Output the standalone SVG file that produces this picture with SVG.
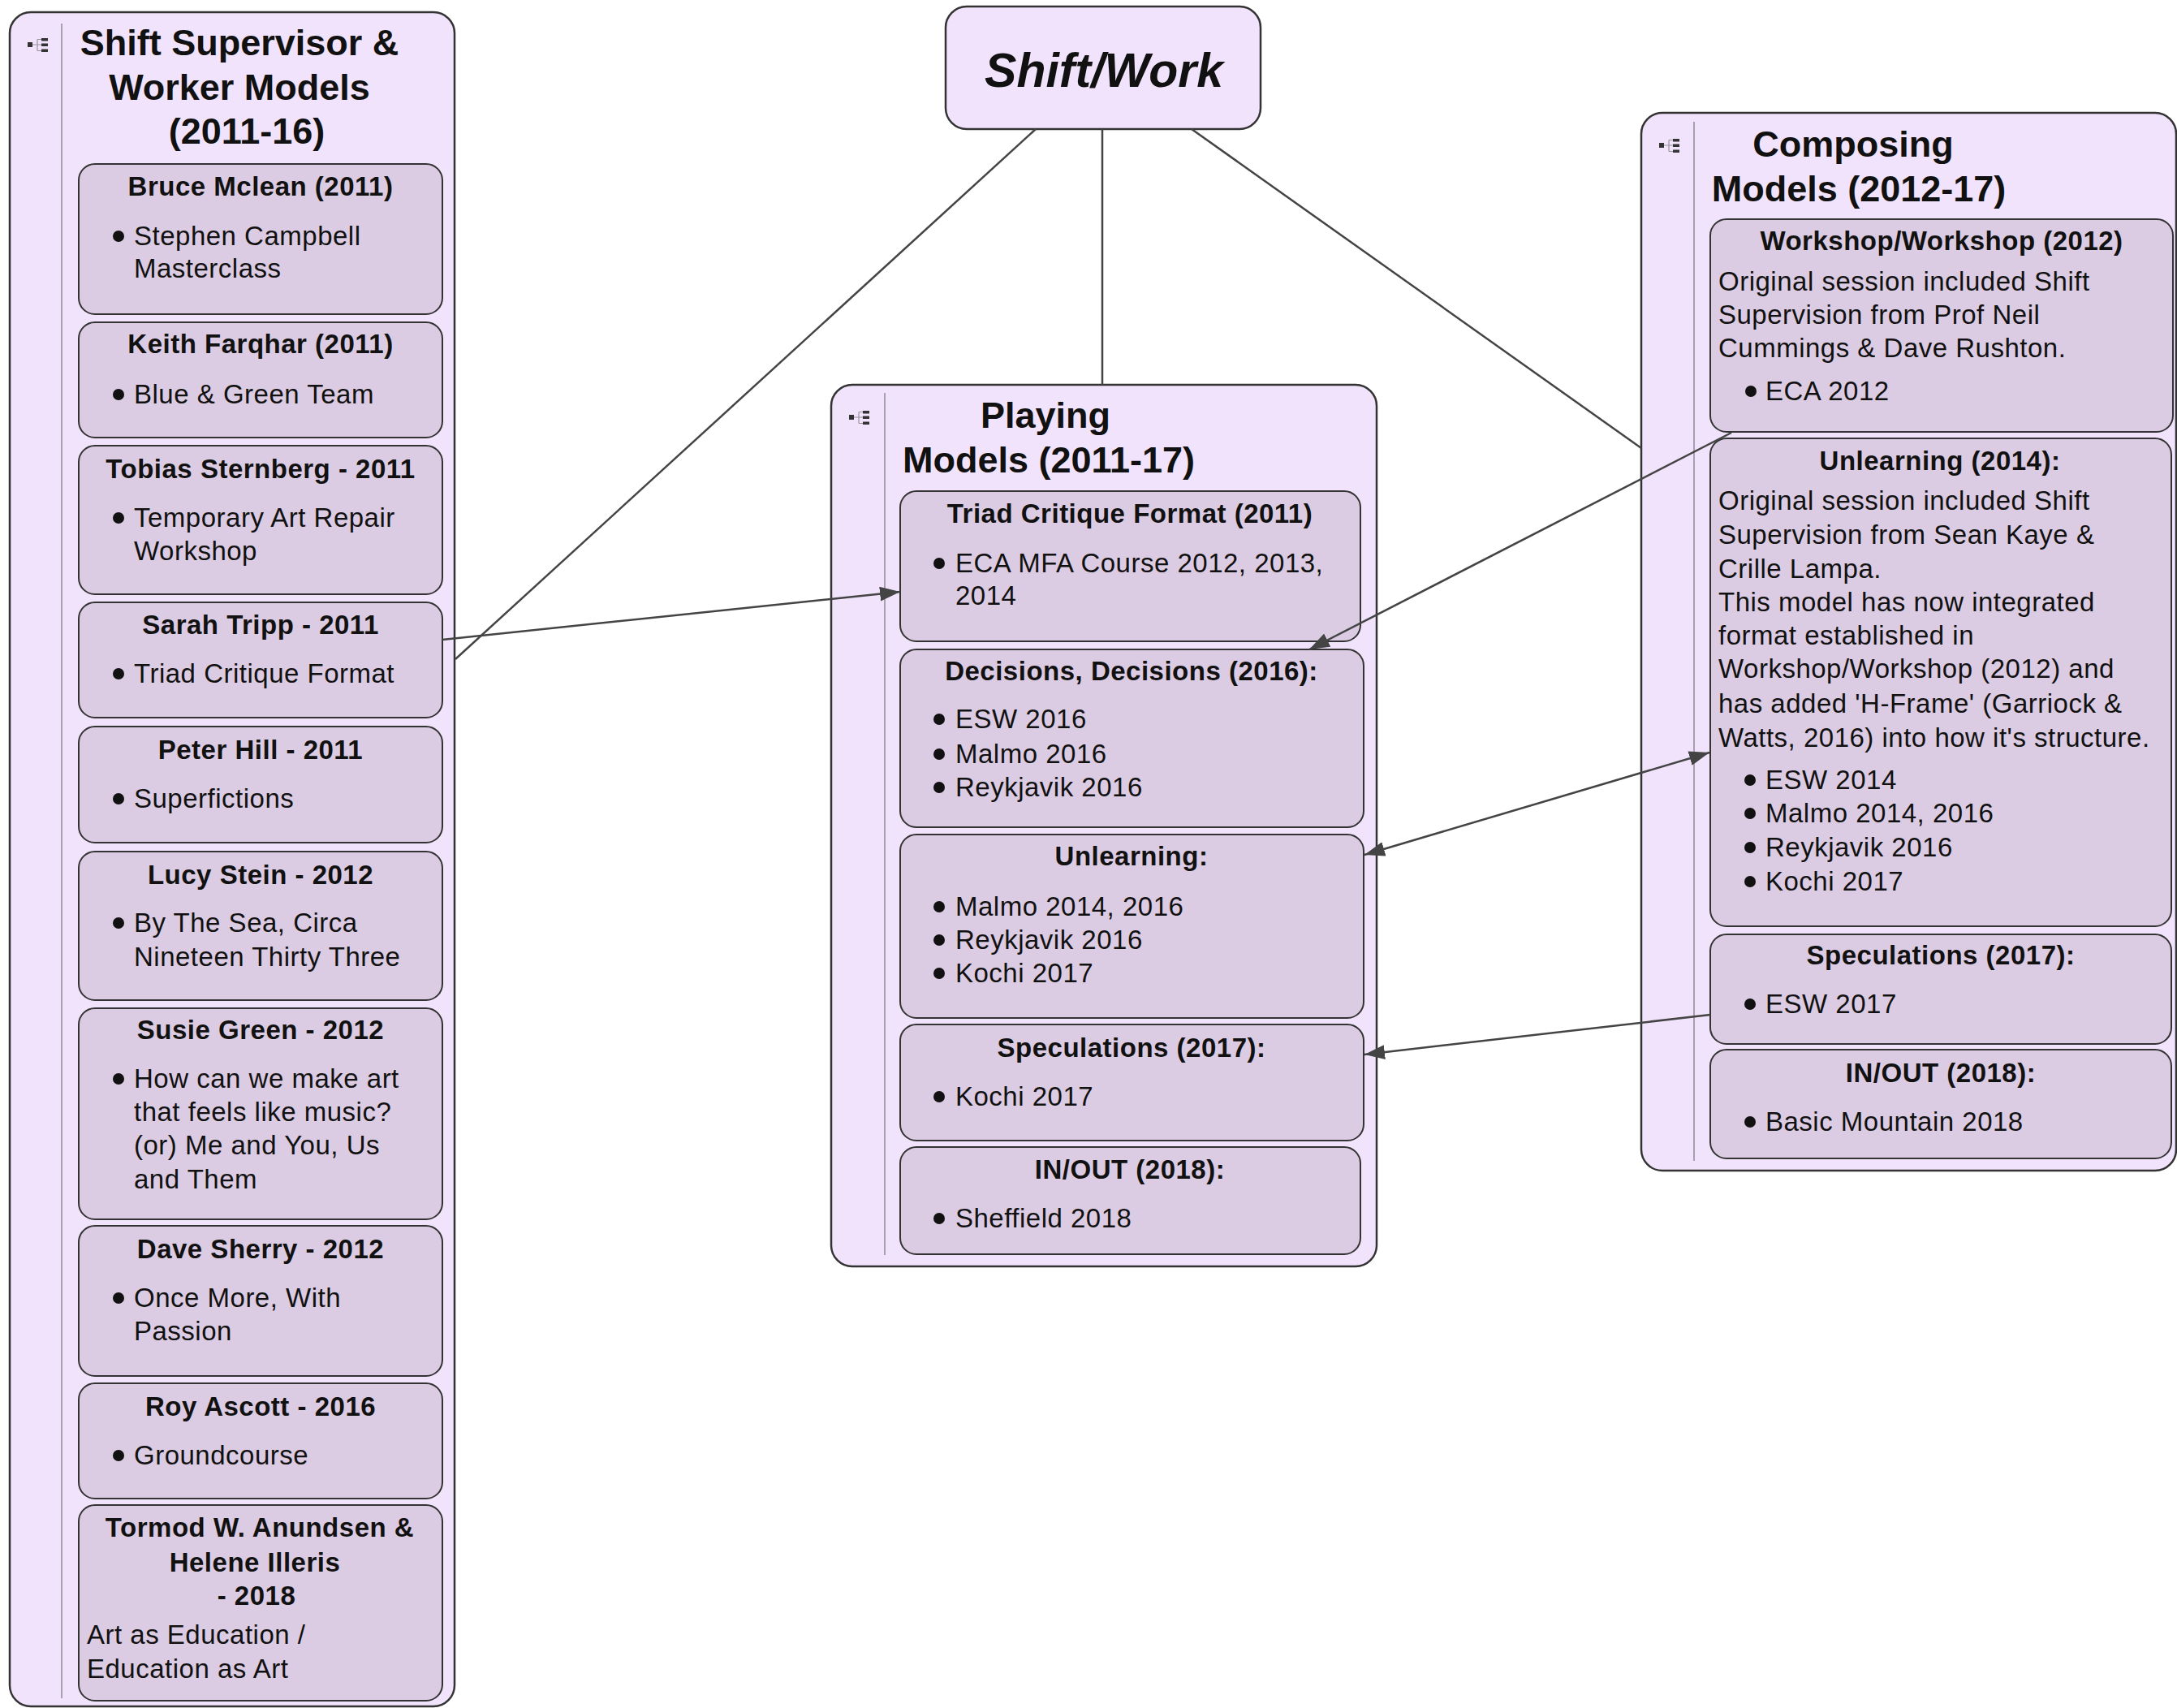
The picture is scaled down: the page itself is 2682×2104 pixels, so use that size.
<svg xmlns="http://www.w3.org/2000/svg" width="2682" height="2104" viewBox="0 0 2682 2104">
  <style>
    text { font-family: "Liberation Sans", Arial, sans-serif; fill: #111; }
    .cont { fill: #f1e3fb; stroke: #333; stroke-width: 2.5; }
    .box { fill: #dccce3; stroke: #333; stroke-width: 2; }
    .divider { stroke: #a8a0ae; stroke-width: 2; }
    .h1 { font-size: 45px; font-weight: bold; text-anchor: middle; }
    .h2 { font-size: 33px; font-weight: bold; letter-spacing: 0.5px; text-anchor: middle; }
    .t { font-size: 33px; letter-spacing: 0.5px; }
    .root { font-size: 59px; font-weight: bold; font-style: italic; text-anchor: middle; }
    .dot { fill: #111; }
    .conn { stroke: #444; stroke-width: 2.5; fill: none; }
  </style>
  <defs>
    <marker id="arrow" markerUnits="userSpaceOnUse" markerWidth="26" markerHeight="18" refX="25" refY="9" orient="auto-start-reverse">
      <path d="M0,0 L25,9 L0,18 z" fill="#444"/>
    </marker>
    <!-- collapse / outline toggle icon -->
    <g id="icon">
      <path d="M13,1.5 V15.5 M7,8 H18 M13,1.5 H18 M13,15.5 H18" stroke="#9a94a0" stroke-width="1.2" fill="none"/>
      <rect x="1" y="5" width="6" height="6" fill="#333"/>
      <rect x="18" y="0" width="8" height="3.5" fill="#333"/>
      <rect x="18" y="6.5" width="8" height="3.5" fill="#333"/>
      <rect x="18" y="13.5" width="8" height="3.5" fill="#333"/>
    </g>
  </defs>

  <!-- root topic -->
  <g id="shift-work">
    <rect x="1165" y="8" width="388" height="151" rx="26" class="cont"/>
    <text x="1360" y="107" class="root">Shift/Work</text>
  </g>

  <!-- left column: supervisor & worker models -->
  <g id="supervisor-models">
    <rect x="12" y="15" width="548" height="2087" rx="26" class="cont"/>
    <line x1="76" y1="29" x2="76" y2="2092" class="divider"/>
    <use href="#icon" x="33" y="47"/>
    <text x="295" y="68" class="h1">Shift Supervisor &amp;</text>
    <text x="295" y="123" class="h1">Worker Models</text>
    <text x="304" y="177" class="h1">(2011-16)</text>
  </g>

  <g id="bruce-mclean">
    <rect x="97" y="202" width="448" height="185" rx="20" class="box"/>
    <text x="321" y="241" class="h2">Bruce Mclean (2011)</text>
    <circle cx="146" cy="291" r="7" class="dot"/>
    <text x="165" y="302" class="t">Stephen Campbell</text>
    <text x="165" y="342" class="t">Masterclass</text>
  </g>

  <g id="keith-farqhar">
    <rect x="97" y="397" width="448" height="142" rx="20" class="box"/>
    <text x="321" y="435" class="h2">Keith Farqhar (2011)</text>
    <circle cx="146" cy="486" r="7" class="dot"/>
    <text x="165" y="497" class="t">Blue &amp; Green Team</text>
  </g>

  <g id="tobias-sternberg">
    <rect x="97" y="549" width="448" height="183" rx="20" class="box"/>
    <text x="321" y="589" class="h2">Tobias Sternberg - 2011</text>
    <circle cx="146" cy="638" r="7" class="dot"/>
    <text x="165" y="649" class="t">Temporary Art Repair</text>
    <text x="165" y="690" class="t">Workshop</text>
  </g>

  <g id="sarah-tripp">
    <rect x="97" y="742" width="448" height="142" rx="20" class="box"/>
    <text x="321" y="781" class="h2">Sarah Tripp - 2011</text>
    <circle cx="146" cy="830" r="7" class="dot"/>
    <text x="165" y="841" class="t">Triad Critique Format</text>
  </g>

  <g id="peter-hill">
    <rect x="97" y="895" width="448" height="143" rx="20" class="box"/>
    <text x="321" y="935" class="h2">Peter Hill - 2011</text>
    <circle cx="146" cy="984" r="7" class="dot"/>
    <text x="165" y="995" class="t">Superfictions</text>
  </g>

  <g id="lucy-stein">
    <rect x="97" y="1049" width="448" height="183" rx="20" class="box"/>
    <text x="321" y="1089" class="h2">Lucy Stein - 2012</text>
    <circle cx="146" cy="1137" r="7" class="dot"/>
    <text x="165" y="1148" class="t">By The Sea, Circa</text>
    <text x="165" y="1190" class="t">Nineteen Thirty Three</text>
  </g>

  <g id="susie-green">
    <rect x="97" y="1242" width="448" height="260" rx="20" class="box"/>
    <text x="321" y="1280" class="h2">Susie Green - 2012</text>
    <circle cx="146" cy="1329" r="7" class="dot"/>
    <text x="165" y="1340" class="t">How can we make art</text>
    <text x="165" y="1381" class="t">that feels like music?</text>
    <text x="165" y="1422" class="t">(or) Me and You, Us</text>
    <text x="165" y="1464" class="t">and Them</text>
  </g>

  <g id="dave-sherry">
    <rect x="97" y="1510" width="448" height="185" rx="20" class="box"/>
    <text x="321" y="1550" class="h2">Dave Sherry - 2012</text>
    <circle cx="146" cy="1599" r="7" class="dot"/>
    <text x="165" y="1610" class="t">Once More, With</text>
    <text x="165" y="1651" class="t">Passion</text>
  </g>

  <g id="roy-ascott">
    <rect x="97" y="1704" width="448" height="142" rx="20" class="box"/>
    <text x="321" y="1744" class="h2">Roy Ascott - 2016</text>
    <circle cx="146" cy="1793" r="7" class="dot"/>
    <text x="165" y="1804" class="t">Groundcourse</text>
  </g>

  <g id="anundsen-illeris">
    <rect x="97" y="1854" width="448" height="241" rx="20" class="box"/>
    <text x="320" y="1893" class="h2">Tormod W. Anundsen &amp;</text>
    <text x="314" y="1936" class="h2">Helene Illeris</text>
    <text x="316" y="1977" class="h2">- 2018</text>
    <text x="107" y="2025" class="t">Art as Education /</text>
    <text x="107" y="2067" class="t">Education as Art</text>
  </g>

  <!-- middle column: playing models -->
  <g id="playing-models">
    <rect x="1024" y="474" width="672" height="1086" rx="26" class="cont"/>
    <line x1="1090" y1="484" x2="1090" y2="1546" class="divider"/>
    <use href="#icon" x="1045" y="506"/>
    <text x="1288" y="527" class="h1">Playing</text>
    <text x="1292" y="582" class="h1">Models (2011-17)</text>
  </g>

  <g id="triad-critique">
    <rect x="1109" y="605" width="567" height="185" rx="20" class="box"/>
    <text x="1392" y="644" class="h2">Triad Critique Format (2011)</text>
    <circle cx="1157" cy="694" r="7" class="dot"/>
    <text x="1177" y="705" class="t">ECA MFA Course 2012, 2013,</text>
    <text x="1177" y="745" class="t">2014</text>
  </g>

  <g id="decisions">
    <rect x="1109" y="800" width="571" height="219" rx="20" class="box"/>
    <text x="1394" y="838" class="h2">Decisions, Decisions (2016):</text>
    <circle cx="1157" cy="886" r="7" class="dot"/>
    <text x="1177" y="897" class="t">ESW 2016</text>
    <circle cx="1157" cy="929" r="7" class="dot"/>
    <text x="1177" y="940" class="t">Malmo 2016</text>
    <circle cx="1157" cy="970" r="7" class="dot"/>
    <text x="1177" y="981" class="t">Reykjavik 2016</text>
  </g>

  <g id="unlearning-play">
    <rect x="1109" y="1028" width="571" height="226" rx="20" class="box"/>
    <text x="1394" y="1066" class="h2">Unlearning:</text>
    <circle cx="1157" cy="1117" r="7" class="dot"/>
    <text x="1177" y="1128" class="t">Malmo 2014, 2016</text>
    <circle cx="1157" cy="1158" r="7" class="dot"/>
    <text x="1177" y="1169" class="t">Reykjavik 2016</text>
    <circle cx="1157" cy="1199" r="7" class="dot"/>
    <text x="1177" y="1210" class="t">Kochi 2017</text>
  </g>

  <g id="speculations-play">
    <rect x="1109" y="1262" width="571" height="143" rx="20" class="box"/>
    <text x="1394" y="1302" class="h2">Speculations (2017):</text>
    <circle cx="1157" cy="1351" r="7" class="dot"/>
    <text x="1177" y="1362" class="t">Kochi 2017</text>
  </g>

  <g id="inout-play">
    <rect x="1109" y="1413" width="567" height="132" rx="20" class="box"/>
    <text x="1392" y="1452" class="h2">IN/OUT (2018):</text>
    <circle cx="1157" cy="1501" r="7" class="dot"/>
    <text x="1177" y="1512" class="t">Sheffield 2018</text>
  </g>

  <!-- right column: composing models -->
  <g id="composing-models">
    <rect x="2022" y="139" width="659" height="1303" rx="26" class="cont"/>
    <line x1="2087" y1="150" x2="2087" y2="1430" class="divider"/>
    <use href="#icon" x="2043" y="171"/>
    <text x="2283" y="193" class="h1">Composing</text>
    <text x="2290" y="248" class="h1">Models (2012-17)</text>
  </g>

  <g id="workshop-workshop">
    <rect x="2107" y="270" width="570" height="262" rx="20" class="box"/>
    <text x="2392" y="308" class="h2">Workshop/Workshop (2012)</text>
    <text x="2117" y="358" class="t">Original session included Shift</text>
    <text x="2117" y="399" class="t">Supervision from Prof Neil</text>
    <text x="2117" y="440" class="t">Cummings &amp; Dave Rushton.</text>
    <circle cx="2157" cy="482" r="7" class="dot"/>
    <text x="2175" y="493" class="t">ECA 2012</text>
  </g>

  <g id="unlearning-compose">
    <rect x="2107" y="540" width="568" height="601" rx="20" class="box"/>
    <text x="2390" y="579" class="h2">Unlearning (2014):</text>
    <text x="2117" y="628" class="t">Original session included Shift</text>
    <text x="2117" y="670" class="t">Supervision from Sean Kaye &amp;</text>
    <text x="2117" y="712" class="t">Crille Lampa.</text>
    <text x="2117" y="753" class="t">This model has now integrated</text>
    <text x="2117" y="794" class="t">format established in</text>
    <text x="2117" y="835" class="t">Workshop/Workshop (2012) and</text>
    <text x="2117" y="878" class="t">has added 'H-Frame' (Garriock &amp;</text>
    <text x="2117" y="920" class="t">Watts, 2016) into how it's structure.</text>
    <circle cx="2156" cy="961" r="7" class="dot"/>
    <text x="2175" y="972" class="t">ESW 2014</text>
    <circle cx="2156" cy="1002" r="7" class="dot"/>
    <text x="2175" y="1013" class="t">Malmo 2014, 2016</text>
    <circle cx="2156" cy="1044" r="7" class="dot"/>
    <text x="2175" y="1055" class="t">Reykjavik 2016</text>
    <circle cx="2156" cy="1086" r="7" class="dot"/>
    <text x="2175" y="1097" class="t">Kochi 2017</text>
  </g>

  <g id="speculations-compose">
    <rect x="2107" y="1151" width="568" height="135" rx="20" class="box"/>
    <text x="2391" y="1188" class="h2">Speculations (2017):</text>
    <circle cx="2156" cy="1237" r="7" class="dot"/>
    <text x="2175" y="1248" class="t">ESW 2017</text>
  </g>

  <g id="inout-compose">
    <rect x="2107" y="1293" width="568" height="134" rx="20" class="box"/>
    <text x="2391" y="1333" class="h2">IN/OUT (2018):</text>
    <circle cx="2156" cy="1382" r="7" class="dot"/>
    <text x="2175" y="1393" class="t">Basic Mountain 2018</text>
  </g>

  <!-- connectors -->
  <g id="connectors">
    <line x1="1276" y1="159" x2="561" y2="812" class="conn"/>
    <line x1="1358" y1="159" x2="1358" y2="474" class="conn"/>
    <line x1="1468" y1="159" x2="2022" y2="552" class="conn"/>
    <line x1="545" y1="788" x2="1109" y2="729" class="conn" marker-end="url(#arrow)"/>
    <line x1="2133" y1="533" x2="1613" y2="800" class="conn" marker-end="url(#arrow)"/>
    <line x1="1681" y1="1053" x2="2106" y2="927" class="conn" marker-start="url(#arrow)" marker-end="url(#arrow)"/>
    <line x1="2107" y1="1250" x2="1681" y2="1299" class="conn" marker-end="url(#arrow)"/>
  </g>
</svg>
